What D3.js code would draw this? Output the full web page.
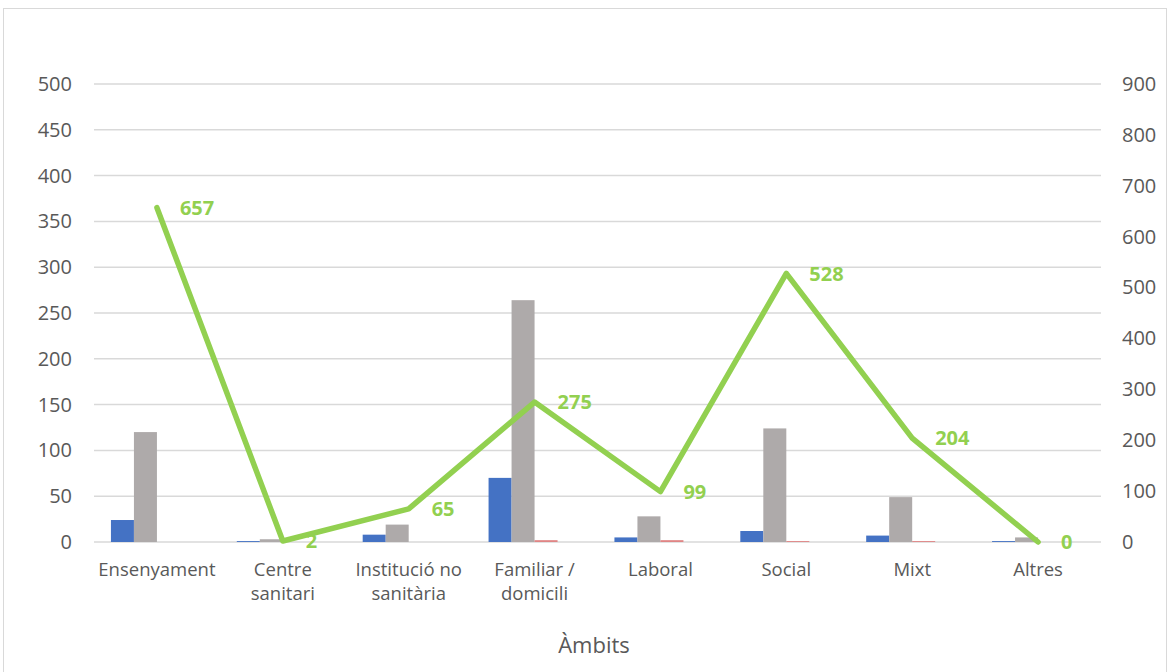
<!DOCTYPE html>
<html><head><meta charset="utf-8">
<script src="https://cdn.jsdelivr.net/npm/d3@7"></script>
<style>
html,body{margin:0;padding:0;background:#fff;}
svg{display:block;font-family:"Open Sans","Noto Sans",sans-serif;}
</style></head>
<body>
<svg id="chart" width="1170" height="672"></svg>
<script>
const categories = [["Ensenyament"],["Centre","sanitari"],["Institució no","sanitària"],["Familiar /","domicili"],["Laboral"],["Social"],["Mixt"],["Altres"]];
const seriesBlue = [24, 1, 8, 70, 5, 12, 7, 1];
const seriesGrey = [120, 3, 19, 264, 28, 124, 49, 5];
const seriesRed  = [0, 0, 0, 2, 2, 1, 1, 0];
const lineValues = [657, 2, 65, 275, 99, 528, 204, 0];
const leftTicks = [0,50,100,150,200,250,300,350,400,450,500];
const rightTicks = [0,100,200,300,400,500,600,700,800,900];
const axisTitle = "Àmbits";

const svg = d3.select("#chart");
const W = 1170, H = 672;
const m = {left:94, right:69, top:84, bottom:130};
const pw = W - m.left - m.right, ph = H - m.top - m.bottom;

svg.append("rect").attr("x",3.5).attr("y",8.5).attr("width",1163).attr("height",680)
  .attr("fill","#fff").attr("stroke","#d9d9d9").attr("stroke-width",1);

const g = svg.append("g").attr("transform",`translate(${m.left},${m.top})`);
const idx = categories.map((d,i)=>i);
const x = d3.scaleBand().domain(idx).range([0,pw]).paddingInner(0).paddingOuter(0);
const yL = d3.scaleLinear().domain([0,500]).range([ph,0]);
const yR = d3.scaleLinear().domain([0,900]).range([ph,0]);

// gridlines
g.append("g").selectAll("line").data(leftTicks).join("line")
  .attr("x1",0).attr("x2",pw).attr("y1",d=>yL(d)).attr("y2",d=>yL(d))
  .attr("stroke","#d9d9d9").attr("stroke-width",1.5);

// left axis
const axL = g.append("g").call(d3.axisLeft(yL).tickValues(leftTicks).tickSize(0).tickPadding(22));
axL.select(".domain").remove();
axL.selectAll("text").attr("font-size",20).attr("fill","#595959").attr("font-family","Open Sans");

const axR = g.append("g").attr("transform",`translate(${pw},0)`)
  .call(d3.axisRight(yR).tickValues(rightTicks).tickSize(0).tickPadding(21));
axR.select(".domain").remove();
axR.selectAll("text").attr("font-size",20).attr("fill","#595959").attr("font-family","Open Sans");

// bars
const slots = d3.scaleBand().domain([0,1,2,3]).range([x.bandwidth()/2 - 46, x.bandwidth()/2 + 46]);
const series = [{v:seriesBlue,c:"#4472c4"},{v:seriesGrey,c:"#aeaaaa"},{v:seriesRed,c:"#e08585"}];
series.forEach((s,si)=>{
  g.append("g").selectAll("rect").data(s.v).join("rect")
    .attr("x",(d,i)=>x(i)+slots(si))
    .attr("width",slots.bandwidth())
    .attr("y",d=>yL(d))
    .attr("height",d=>ph - yL(d))
    .attr("fill",s.c);
});

// category labels
const cl = g.append("g").attr("transform",`translate(0,${ph})`);
categories.forEach((lines,i)=>{
  const t = cl.append("text").attr("x",x(i)+x.bandwidth()/2).attr("y",34)
    .attr("text-anchor","middle").attr("font-size",18.5).attr("fill","#595959");
  lines.forEach((ln,j)=>t.append("tspan").attr("x",x(i)+x.bandwidth()/2).attr("dy",j?24:0).text(ln));
});

g.append("text").attr("x",(594-m.left)).attr("y",ph+111).attr("text-anchor","middle")
  .attr("font-size",22).attr("fill","#595959").text(axisTitle);

// line
const lx = i => x(i)+x.bandwidth()/2;
const line = d3.line().x((d,i)=>lx(i)).y(d=>yR(d));
g.append("path").datum(lineValues).attr("d",line).attr("fill","none")
  .attr("stroke","#92d050").attr("stroke-width",5.5).attr("stroke-linejoin","round").attr("stroke-linecap","round");

g.append("g").selectAll("text").data(lineValues).join("text")
  .attr("x",(d,i)=>lx(i)+23).attr("y",d=>yR(d)).attr("dy","0.36em")
  .attr("font-size",20).attr("font-weight","bold").attr("fill","#92d050").text(d=>d);
</script>
</body></html>
